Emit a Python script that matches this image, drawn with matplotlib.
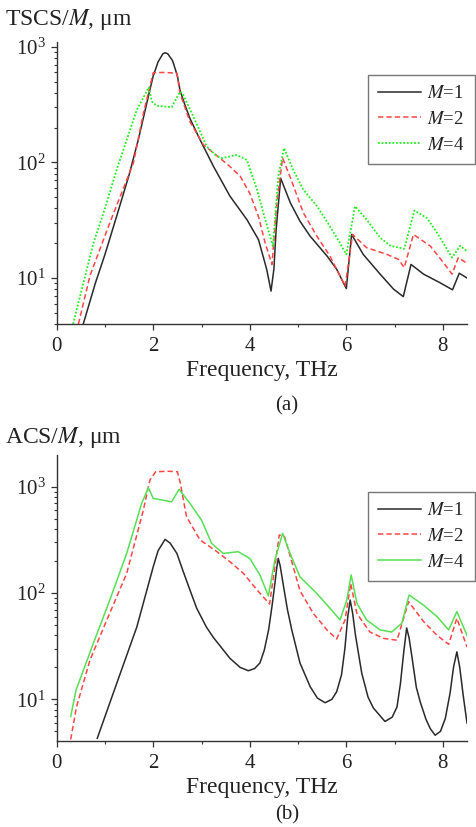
import matplotlib
matplotlib.use("Agg")
import matplotlib.pyplot as plt
from matplotlib.ticker import LogLocator, LogFormatterMathtext, MultipleLocator, NullFormatter

plt.rcParams['font.family'] = ['Liberation Serif', 'DejaVu Serif']
plt.rcParams['mathtext.fontset'] = 'stix'

# ---------------- data: panel (a) TSCS/M ----------------
tscs_m1_x = [0.55, 0.8, 1.0, 1.24, 1.5, 1.69, 1.93, 2.0, 2.1, 2.2, 2.245, 2.3, 2.4, 2.5, 2.555, 2.65,
             2.76, 2.97, 3.25, 3.59, 3.94, 4.18, 4.35, 4.44, 4.50, 4.545, 4.64, 4.84, 5.04, 5.25,
             5.6, 5.8, 6.0, 6.11, 6.35, 6.7, 6.98, 7.18, 7.34, 7.6, 7.94, 8.2, 8.34, 8.5]
tscs_m1_y = [4.0, 9, 16, 34, 78, 157, 424, 560, 740, 870, 888, 870, 760, 560, 420, 320,
             240, 157, 92, 51, 32, 21.5, 11.9, 7.7, 12, 26, 73, 44.7, 31, 23,
             15.5, 11.9, 8.1, 23.8, 16, 10.8, 8.0, 6.9, 13.1, 10.8, 9.1, 7.9, 11, 10]

tscs_m2_x = [0.45, 0.69, 1.1, 1.59, 1.8, 2.0, 2.25, 2.49, 2.555, 2.76, 3.04, 3.38, 3.59, 3.80, 4.0,
             4.18, 4.32, 4.46, 4.56, 4.68, 4.84, 5.11, 5.39, 5.66, 5.975, 6.13, 6.42, 6.84, 7.08,
             7.20, 7.39, 7.74, 8.01, 8.19, 8.32, 8.5]
tscs_m2_y = [4.0, 10.5, 30, 99, 270, 597, 600, 590, 396, 225, 142, 109, 92, 76, 54,
             34, 20, 13.1, 44.7, 109, 74, 36.6, 23, 15.5, 8.5, 23.8, 18.3, 16, 14.5,
             12.3, 23.8, 18.9, 13.6, 10.8, 15, 13.4]

tscs_m4_x = [0.34, 0.5, 0.76, 1.0, 1.24, 1.66, 1.91, 1.97, 2.07, 2.38, 2.555, 2.62, 2.83, 3.11, 3.32,
             3.43, 3.73, 3.94, 4.15, 4.32, 4.48, 4.59, 4.71, 4.90, 5.11, 5.39, 5.66, 5.87, 6.0,
             6.18, 6.42, 6.70, 6.91, 7.20, 7.41, 7.67, 7.88, 8.19, 8.36, 8.5]
tscs_m4_y = [4.0, 7.4, 20, 40, 86, 285, 447, 336, 309, 300, 409, 384, 250, 137, 113,
             109, 116, 105, 58, 32, 18.9, 76, 133, 86, 58, 42, 28, 20, 16,
             41.7, 32, 22.3, 19, 17.9, 38.4, 33, 24.6, 15, 19, 17]

# ---------------- data: panel (b) ACS/M ----------------
acs_m1_x = [0.84, 1.24, 1.66, 2.0, 2.1, 2.245, 2.35, 2.49, 2.62, 2.76, 2.9, 3.1, 3.25, 3.59, 3.8,
            3.97, 4.1, 4.21, 4.3, 4.39, 4.46, 4.52, 4.56, 4.59, 4.63, 4.70, 4.78, 4.87, 5.04,
            5.25, 5.4, 5.56, 5.7, 5.80, 5.9, 5.97, 6.03, 6.08, 6.13, 6.19, 6.32, 6.45, 6.56,
            6.8, 6.95, 7.05, 7.12, 7.19, 7.25, 7.3, 7.36, 7.45, 7.53, 7.65, 7.74, 7.84, 7.95,
            8.05, 8.15, 8.22, 8.29, 8.35, 8.42, 8.5]
acs_m1_y = [4.3, 14, 48, 177, 250, 320, 295, 236, 160, 107, 72, 48, 38, 24.3, 20,
            18.6, 19.5, 22, 29, 45, 75, 123, 175, 212, 180, 115, 70, 45, 22,
            13.2, 10.3, 9.3, 10, 11.8, 17, 30, 60, 86, 65, 40, 17.6, 10.5, 8.3,
            6.2, 6.8, 8.5, 14, 28, 47, 38, 25, 13, 9.5, 6.5, 5.3, 4.6, 5.0,
            6.6, 11.5, 20, 28, 20, 11, 6.0]

acs_m2_x = [0.29, 0.41, 0.69, 1.04, 1.45, 1.795, 1.93, 2.05, 2.3, 2.5, 2.555, 2.69, 2.97, 3.32, 3.59,
            3.87, 4.15, 4.41, 4.52, 4.61, 4.72, 4.90, 5.04, 5.32, 5.60, 5.80, 5.975, 6.09, 6.22,
            6.49, 6.77, 7.05, 7.29, 7.60, 7.88, 8.12, 8.29, 8.5]
acs_m2_y = [4.2, 8.5, 23.5, 56, 153, 603, 1156, 1384, 1400, 1384, 1114, 522, 316, 245, 197,
            153, 107, 79, 177, 352, 340, 177, 105, 64, 45, 37, 56, 123, 64,
            43, 37.5, 36, 83, 54, 40, 33, 58, 31]

acs_m4_x = [0.29, 0.40, 0.76, 1.10, 1.45, 1.76, 1.90, 2.0, 2.38, 2.535, 2.76, 3.0, 3.21, 3.45, 3.76,
            4.0, 4.21, 4.385, 4.52, 4.68, 4.835, 5.04, 5.39, 5.66, 5.87, 6.01, 6.10, 6.22, 6.42,
            6.70, 6.94, 7.15, 7.30, 7.60, 7.88, 8.12, 8.29, 8.5]
acs_m4_y = [6.9, 12.2, 33.7, 86, 236, 698, 980, 777, 722, 945, 698, 486, 293, 236, 245,
            212, 148, 94, 204, 365, 236, 142, 99, 72, 56, 86, 148, 80, 56,
            45, 43, 52, 96, 77, 60, 45, 67, 40]

labels = [r"$M$=1", r"$M$=2", r"$M$=4"]
x_ticks = [0, 2, 4, 6, 8]

BLACK = '#2a2a2a'
RED = '#ff4545'
GREEN_DOT = '#22ee22'
GREEN = '#55e055'

fig = plt.figure(figsize=(4.77, 8.27), dpi=100)
W, H = 477, 827


def axes_px(x0, y0, x1, y1):
    return fig.add_axes([x0 / W, 1 - y1 / H, (x1 - x0) / W, (y1 - y0) / H])


def style(ax, ylim):
    ax.set_yscale('log')
    ax.set_xlim(0, 8.5)
    ax.set_ylim(*ylim)
    for s in ('top', 'right'):
        ax.spines[s].set_visible(False)
    for s in ('left', 'bottom'):
        ax.spines[s].set_linewidth(1.0)
        ax.spines[s].set_color('#333333')
    ax.set_xticks(x_ticks)
    ax.xaxis.set_minor_locator(MultipleLocator(1))
    ax.yaxis.set_major_locator(LogLocator(base=10, numticks=10))
    ax.yaxis.set_major_formatter(LogFormatterMathtext())
    ax.yaxis.set_minor_locator(LogLocator(base=10, subs=range(2, 10), numticks=20))
    ax.yaxis.set_minor_formatter(NullFormatter())
    ax.tick_params(which='major', direction='out', length=4.5, width=0.9, labelsize=15, colors='#333333',
                   labelcolor='#222222')
    ax.tick_params(axis='x', which='major', pad=5)
    ax.tick_params(which='minor', direction='out', length=2.5, width=0.8, colors='#333333')
    ax.set_xlabel('Frequency, THz', fontsize=17, labelpad=3, color='#222222')


# ---- panel (a)
ax1 = axes_px(56.7, 42, 467, 324)
ax1.plot(tscs_m1_x, tscs_m1_y, color=BLACK, lw=1.1, label=labels[0])
ax1.plot(tscs_m2_x, tscs_m2_y, color=RED, lw=1.1, linestyle=(0, (3.5, 2.0)), label=labels[1])
ax1.plot(tscs_m4_x, tscs_m4_y, color=GREEN_DOT, lw=1.3, linestyle=(0, (1, 1)), label=labels[2])
style(ax1, (4.0, 1100))

# ---- panel (b)
ax2 = axes_px(56.7, 455, 467, 741)
ax2.plot(acs_m1_x, acs_m1_y, color=BLACK, lw=1.1, label=labels[0])
ax2.plot(acs_m2_x, acs_m2_y, color=RED, lw=1.1, linestyle=(0, (3.5, 2.0)), label=labels[1])
ax2.plot(acs_m4_x, acs_m4_y, color=GREEN, lw=1.1, label=labels[2])
style(ax2, (4.06, 1990))

for ax, anchor in ((ax1, (368, 75)), (ax2, (368, 492))):
    leg = ax.legend(loc='upper left', bbox_to_anchor=(anchor[0] / W, 1 - anchor[1] / H),
                    bbox_transform=fig.transFigure, fontsize=13.5, frameon=True, fancybox=False,
                    edgecolor='#777777', framealpha=1, handlelength=2.3, handletextpad=0.3,
                    labelspacing=0.45, borderpad=0.55, borderaxespad=0)
    leg.get_frame().set_linewidth(1.0)
    for t in leg.get_texts():
        t.set_color('#222222')

fig.text(5 / W, 1 - 19 / H, r"TSCS/$M$, μm", fontsize=17, va='center', ha='left', color='#222222')
fig.text(5 / W, 1 - 437 / H, r"ACS/$M$, μm", fontsize=17, va='center', ha='left', color='#222222')
fig.text(287 / W, 1 - 406 / H, "(a)", fontsize=15, va='center', ha='center', color='#222222')
fig.text(287 / W, 1 - 815 / H, "(b)", fontsize=15, va='center', ha='center', color='#222222')

fig.savefig('out.png', dpi=100)
